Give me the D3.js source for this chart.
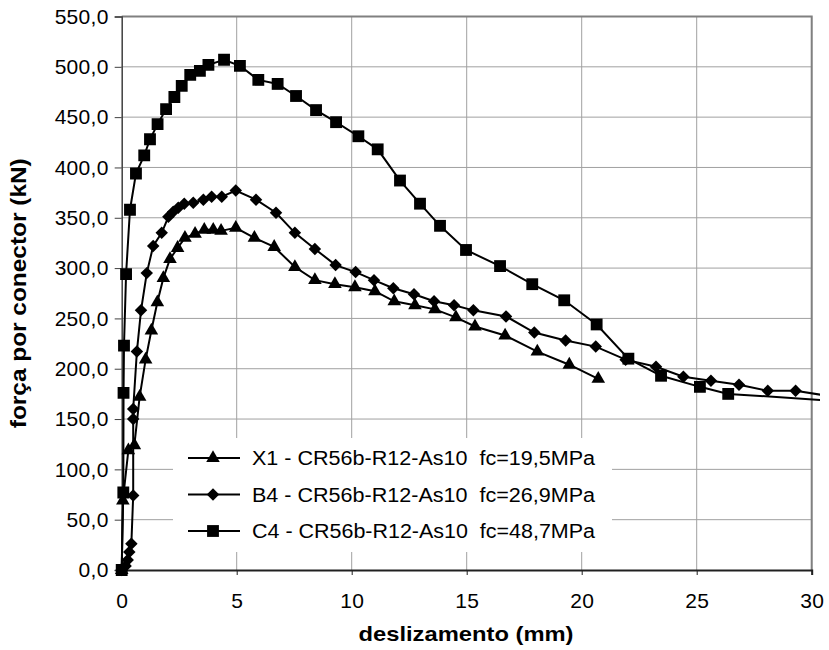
<!DOCTYPE html>
<html><head><meta charset="utf-8">
<script src="https://cdn.jsdelivr.net/npm/d3@7"></script>
<style>body{margin:0;background:#fff}svg{display:block}text{font-family:"Liberation Sans",Arial,sans-serif}</style>
</head><body><div id="chart"></div>
<script>
// ---- data ----
const xTicks = [0, 5, 10, 15, 20, 25, 30];
const yTicks = [0, 50, 100, 150, 200, 250, 300, 350, 400, 450, 500, 550];
const seriesNames = [
  "X1 - CR56b-R12-As10  fc=19,5MPa",
  "B4 - CR56b-R12-As10  fc=26,9MPa",
  "C4 - CR56b-R12-As10  fc=48,7MPa"
];
const x1X = [0, 0.05, 0.29, 0.55, 0.78, 1.04, 1.29, 1.55, 1.81, 2.10, 2.43, 2.75, 3.19, 3.59, 3.98, 4.32, 4.96, 5.77, 6.63, 7.53, 8.40, 9.27, 10.14, 11.01, 11.85, 12.75, 13.62, 14.53, 15.36, 16.67, 18.07, 19.46, 20.72];
const x1Y = [0, 69, 119, 124, 172, 209, 238, 266, 290, 309, 320, 330, 334, 338, 338, 337, 340, 330, 321, 301, 288, 284, 281, 277, 267, 263, 259, 251, 242, 233, 217, 204, 190];
const b4X = [0, 0.17, 0.26, 0.33, 0.42, 0.5, 0.5, 0.5, 0.66, 0.84, 1.09, 1.37, 1.74, 2.03, 2.24, 2.46, 2.72, 3.11, 3.55, 3.91, 4.35, 4.96, 5.84, 6.71, 7.53, 8.40, 9.30, 10.17, 10.97, 11.81, 12.71, 13.58, 14.45, 15.29, 16.71, 17.94, 19.30, 20.61, 21.91, 23.23, 24.42, 25.62, 26.84, 28.09, 29.30, 31.0];
const b4Y = [0, 4, 10, 18, 26, 74, 150, 160, 217, 258, 295, 322, 335, 351, 356, 360, 364, 365, 368, 371, 371, 377, 368, 355, 335, 319, 303, 296, 288, 280, 274, 267, 263, 258, 252, 236, 228, 222, 209, 202, 192, 188, 184, 178, 178, 172];
const c4X = [0, 0.07, 0.08, 0.10, 0.19, 0.36, 0.62, 0.98, 1.23, 1.56, 1.93, 2.29, 2.61, 2.98, 3.40, 3.77, 4.45, 5.14, 5.94, 6.78, 7.58, 8.45, 9.32, 10.29, 11.13, 12.10, 12.97, 13.84, 14.97, 16.45, 17.85, 19.24, 20.65, 22.03, 23.45, 25.14, 26.37, 31.0];
const c4Y = [0, 77, 176, 223, 294, 358, 394, 412, 428, 443, 458, 470, 481, 492, 496, 502, 507, 501, 487, 483, 471, 457, 445, 431, 418, 387, 364, 342, 318, 302, 284, 268, 244, 210, 193, 182, 175, 168];

const W = 829, H = 650;
const m = {left: 121.7, right: 811.7, top: 16.5, bottom: 570};
const svg = d3.select("#chart").append("svg").attr("width", W).attr("height", H);

const x = d3.scaleLinear().domain([0, 30]).range([m.left, m.right]);
const y = d3.scaleLinear().domain([0, 550]).range([m.bottom, m.top]);

// gridlines
svg.append("g").selectAll("line").data(yTicks.slice(1)).join("line")
  .attr("x1", m.left).attr("x2", m.right).attr("y1", d => y(d)).attr("y2", d => y(d))
  .attr("stroke", "#a0a0a0").attr("stroke-width", 1);
svg.append("g").selectAll("line").data(xTicks.slice(1)).join("line")
  .attr("y1", m.top).attr("y2", m.bottom).attr("x1", d => x(d)).attr("x2", d => x(d))
  .attr("stroke", "#a0a0a0").attr("stroke-width", 1);

// plot border (top, right)
svg.append("path").attr("d", `M${m.left},${m.top}H${m.right}V${m.bottom}`)
  .attr("fill", "none").attr("stroke", "#808080").attr("stroke-width", 2);

// axes
const fmt = d => d3.format(".1f")(d).replace(".", ",");
const yAxis = svg.append("g").attr("transform", `translate(${m.left},0)`)
  .call(d3.axisLeft(y).tickValues(yTicks).tickFormat(fmt).tickSize(7).tickPadding(6));
const xAxis = svg.append("g").attr("transform", `translate(0,${m.bottom})`)
  .call(d3.axisBottom(x).tickValues(xTicks).tickFormat(d3.format("d")).tickSize(5).tickPadding(18));
yAxis.select(".domain").attr("stroke", "#404040").attr("stroke-width", 1.5);
xAxis.select(".domain").attr("stroke", "#202020").attr("stroke-width", 2);
yAxis.selectAll(".tick line").attr("stroke", "#404040");
xAxis.selectAll(".tick line").attr("stroke", "#202020");
[yAxis, xAxis].forEach(g => g.selectAll("text").attr("font-size", 21)
  .attr("font-family", "'Liberation Sans', Arial, sans-serif").attr("fill", "#000").attr("letter-spacing", 0.3));

// axis titles
svg.append("text").attr("x", 466).attr("y", 641).attr("text-anchor", "middle")
  .attr("font-size", 21).attr("font-weight", "bold")
  .attr("textLength", 215).attr("lengthAdjust", "spacingAndGlyphs").text("deslizamento (mm)");
svg.append("text").attr("transform", `translate(26,${(m.top + m.bottom) / 2}) rotate(-90)`)
  .attr("text-anchor", "middle").attr("font-size", 22).attr("font-weight", "bold")
  .attr("textLength", 270).attr("lengthAdjust", "spacingAndGlyphs")
  .text("força por conector (kN)");

// series
const clip = svg.append("clipPath").attr("id", "clip").append("rect")
  .attr("x", m.left - 10).attr("y", 0).attr("width", 820 - m.left + 10).attr("height", H);
const series = [
  {xs: x1X, ys: x1Y, sym: d3.symbolTriangle, size: 80, rot: 0},
  {xs: b4X, ys: b4Y, sym: d3.symbolSquare, size: 78, rot: 45},
  {xs: c4X, ys: c4Y, sym: d3.symbolSquare, size: 140, rot: 0}
];
const line = d3.line().x(d => x(d[0])).y(d => y(d[1]));
const plot = svg.append("g").attr("clip-path", "url(#clip)");
series.forEach(s => {
  const pts = s.xs.map((v, i) => [v, s.ys[i]]);
  plot.append("path").datum(pts).attr("d", line).attr("fill", "none").attr("stroke", "#000").attr("stroke-width", 2);
  plot.append("g").selectAll("path").data(pts.filter(p => p[0] <= 30)).join("path")
    .attr("d", d3.symbol(s.sym, s.size))
    .attr("transform", p => `translate(${x(p[0])},${y(p[1])}) rotate(${s.rot})`)
    .attr("fill", "#000");
});

// legend
const lg = svg.append("g");
lg.append("rect").attr("x", 173).attr("y", 438).attr("width", 439).attr("height", 114).attr("fill", "#fff");
const ly = [458, 494.5, 531];
series.forEach((s, i) => {
  lg.append("line").attr("x1", 188).attr("x2", 240).attr("y1", ly[i]).attr("y2", ly[i])
    .attr("stroke", "#000").attr("stroke-width", 2);
  lg.append("path").attr("d", d3.symbol(s.sym, s.size))
    .attr("transform", `translate(213,${ly[i]}) rotate(${s.rot})`).attr("fill", "#000");
  lg.append("text").attr("x", 252).attr("y", ly[i]).attr("dy", "0.35em")
    .attr("font-size", 20).attr("textLength", 343).attr("lengthAdjust", "spacingAndGlyphs")
    .attr("xml:space", "preserve").style("white-space", "pre").text(seriesNames[i]);
});
</script></body></html>
